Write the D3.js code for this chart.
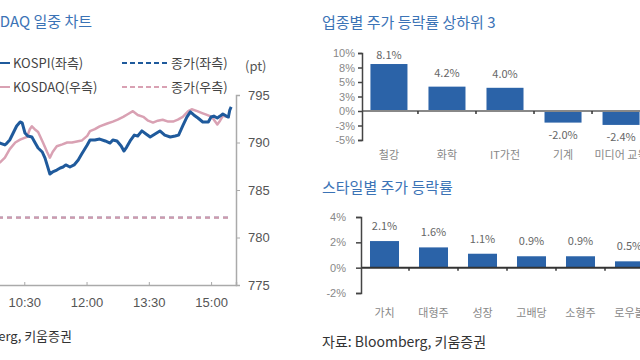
<!DOCTYPE html>
<html><head><meta charset="utf-8">
<script src="https://cdn.jsdelivr.net/npm/d3@7"></script>
<style>
html,body{margin:0;padding:0;background:#fff;}
svg{display:block;font-family:"Noto Sans CJK KR","Noto Sans",sans-serif;}
</style></head><body>
<svg id="c" width="640" height="360"></svg>
<script>
// ---------- data ----------
const kospiTimes = ["09:50","09:55","10:02","10:05","10:09","10:14","10:19","10:24","10:27","10:31","10:35","10:41","10:45","10:50","10:56","11:00","11:03","11:07","11:11","11:17","11:22","11:26","11:30","11:36","11:42","11:48","11:53","12:01","12:05","12:12","12:19","12:27","12:34","12:38","12:44","12:50","12:54","12:58","13:03","13:09","13:14","13:20","13:26","13:32","13:39","13:46","13:53","14:01","14:08","14:13","14:19","14:25","14:30","14:35","14:41","14:48","14:56","15:00","15:04","15:09","15:13","15:17","15:22","15:25","15:27","15:29"];
const kospiValues = [2474.7,2474.7,2473.7,2474.7,2476.3,2480.0,2483.7,2485.8,2485.3,2480.0,2478.4,2477.9,2475.3,2472.1,2470.0,2466.8,2463.2,2458.4,2459.5,2460.5,2461.6,2462.1,2463.2,2462.1,2463.2,2465.8,2468.9,2473.7,2476.3,2476.3,2476.8,2475.8,2474.7,2476.3,2475.8,2473.2,2470.5,2472.6,2475.8,2478.9,2478.4,2481.1,2479.5,2477.9,2479.5,2481.1,2478.9,2477.9,2478.4,2478.9,2483.7,2488.4,2491.1,2489.5,2487.9,2485.8,2485.8,2488.4,2488.9,2487.9,2488.9,2490.0,2488.9,2488.4,2492.1,2493.7];
const kosdaqTimes = ["09:50","09:55","10:02","10:09","10:17","10:24","10:34","10:38","10:41","10:45","10:50","10:57","11:03","11:07","11:11","11:17","11:25","11:32","11:39","11:46","11:53","12:01","12:05","12:12","12:19","12:30","12:38","12:45","12:53","13:00","13:07","13:14","13:22","13:29","13:36","13:43","13:50","13:58","14:05","14:12","14:19","14:27","14:32","14:40","14:47","14:54","15:01","15:09","15:13","15:17","15:23","15:27"];
const kosdaqValues = [787.9,787.9,788.4,789.3,790.0,790.3,790.6,791.4,791.7,791.4,791.1,790.0,789.0,788.4,789.0,789.6,789.8,790.0,790.0,790.1,790.2,790.7,791.2,791.4,791.7,792.0,792.2,792.4,792.7,793.0,793.3,792.9,792.7,792.3,792.1,792.3,792.4,792.2,792.2,792.4,792.7,793.3,793.5,793.3,793.1,792.9,792.7,791.9,792.3,792.8,792.7,792.8];
const kospiPrevClose = 2435.5;
const kosdaqPrevClose = 782.1;
const timeTicks = ["10:30","12:00","13:30","15:00"];
const rightTicks = [775,780,785,790,795];

const sectorCats = ["철강","화학","IT가전","기계","미디어 교육"];
const sectorValues = [8.1,4.2,4.0,-2.0,-2.4];
const sectorTicks = [-5,-2.5,0,2.5,5,7.5,10];

const styleCats = ["가치","대형주","성장","고배당","소형주","로우볼"];
const styleValues = [2.1,1.6,1.1,0.9,0.9,0.5];
const styleTicks = [-2,0,2,4];

// ---------- helpers ----------
const svg = d3.select("#c");
const parseT = d3.timeParse("%H:%M");
const BLUE = "#1f5a9c", PINK = "#d9a1b3", TITLE = "#3b73b6", BAR = "#2b63a8";

// ---------- left chart ----------
const x = d3.scaleTime().domain([parseT("09:00"), parseT("15:36")]).range([-38, 236]);
const yR = d3.scaleLinear().domain([775, 795]).range([285, 95]);
const yL = d3.scaleLinear().domain([2400, 2500]).range([285, 95]);

svg.append("text").attr("x", 92).attr("y", 27).attr("text-anchor", "end")
  .attr("font-size", 15).attr("fill", TITLE).text("KOSPI, KOSDAQ 일중 차트");

// legend
const lg = [
  {y: 63, c: BLUE, t1: "KOSPI(좌측)", t2: "종가(좌측)"},
  {y: 87, c: PINK, t1: "KOSDAQ(우측)", t2: "종가(우측)"}
];
lg.forEach(d => {
  svg.append("line").attr("x1", -2).attr("x2", 10).attr("y1", d.y).attr("y2", d.y)
    .attr("stroke", d.c).attr("stroke-width", 2);
  svg.append("text").attr("x", 13).attr("y", d.y + 4.5).attr("font-size", 13).attr("fill", "#444").text(d.t1);
  svg.append("line").attr("x1", 122).attr("x2", 167).attr("y1", d.y).attr("y2", d.y)
    .attr("stroke", d.c).attr("stroke-width", 2).attr("stroke-dasharray", "5,3");
  svg.append("text").attr("x", 171).attr("y", d.y + 4.5).attr("font-size", 13).attr("fill", "#444").text(d.t2);
});
svg.append("text").attr("x", 245).attr("y", 71).attr("font-size", 13).attr("fill", "#555").text("(pt)");

// axes
const xAx = svg.append("g").attr("transform", "translate(0,285)")
  .call(d3.axisBottom(x).tickValues(timeTicks.map(parseT)).tickFormat(d3.timeFormat("%H:%M")).tickSize(-3).tickPadding(10));
xAx.select(".domain").attr("stroke", "#aaa").attr("stroke-width", 1.5);
xAx.selectAll(".tick line").attr("stroke", "#aaa");
xAx.selectAll("text").attr("font-size", 13).attr("fill", "#555").attr("dy", "0.9em").attr("font-family", "inherit");

const yAx = svg.append("g").attr("transform", "translate(236,0)")
  .call(d3.axisRight(yR).tickValues(rightTicks).tickSize(4).tickSizeOuter(4).tickPadding(8));
yAx.select(".domain").attr("stroke", "#aaa").attr("stroke-width", 1.5);
yAx.selectAll(".tick line").attr("stroke", "#aaa");
yAx.selectAll("text").attr("font-size", 13).attr("fill", "#555").attr("font-family", "inherit");

// prev-close lines
svg.append("line").attr("x1", x(parseT("09:00"))).attr("x2", 231)
  .attr("y1", yL(kospiPrevClose)).attr("y2", yL(kospiPrevClose))
  .attr("stroke", BLUE).attr("stroke-width", 1.5).attr("stroke-dasharray", "5,4");
svg.append("line").attr("x1", x(parseT("09:00"))).attr("x2", 231)
  .attr("y1", yR(kosdaqPrevClose)).attr("y2", yR(kosdaqPrevClose))
  .attr("stroke", "#cf9aac").attr("stroke-width", 2.2).attr("stroke-dasharray", "5,4");

// lines
const kosdaqData = kosdaqTimes.map((t, i) => ({t: parseT(t), v: kosdaqValues[i]}));
const kospiData = kospiTimes.map((t, i) => ({t: parseT(t), v: kospiValues[i]}));
svg.append("path").datum(kosdaqData)
  .attr("d", d3.line().x(d => x(d.t)).y(d => yR(d.v)))
  .attr("fill", "none").attr("stroke", PINK).attr("stroke-width", 2.5).attr("stroke-linejoin", "round");
svg.append("path").datum(kospiData)
  .attr("d", d3.line().x(d => x(d.t)).y(d => yL(d.v)))
  .attr("fill", "none").attr("stroke", BLUE).attr("stroke-width", 3).attr("stroke-linejoin", "round");

svg.append("text").attr("x", 72).attr("y", 341).attr("text-anchor", "end")
  .attr("font-size", 13).attr("fill", "#333").text("자료: Bloomberg, 키움증권");

// ---------- bar chart helper ----------
function barChart(o) {
  const xs = d3.scaleBand().domain(o.cats).range(o.xr).paddingInner(o.pi).paddingOuter(o.po);
  const ys = d3.scaleLinear().domain(o.dom).range(o.yr);
  svg.append("text").attr("x", 322).attr("y", o.titleY).attr("font-size", 15).attr("fill", TITLE).text(o.title);
  svg.selectAll(null).data(o.vals).enter().append("rect")
    .attr("x", (d, i) => xs(o.cats[i]))
    .attr("width", xs.bandwidth())
    .attr("y", d => ys(Math.max(0, d)))
    .attr("height", d => Math.abs(ys(d) - ys(0)))
    .attr("fill", BAR);
  // zero line
  svg.append("line").attr("x1", o.axisX).attr("x2", 640).attr("y1", ys(0)).attr("y2", ys(0))
    .attr("stroke", o.zeroColor).attr("stroke-width", 2);
  // separators
  o.cats.slice(1).forEach(c => {
    const sx = xs(c) - xs.step() * o.pi / 2;
    svg.append("line").attr("x1", sx).attr("x2", sx).attr("y1", ys(0)).attr("y2", ys(0) + 3)
      .attr("stroke", "#333").attr("stroke-width", 1.5);
  });
  const ax = svg.append("g").attr("transform", `translate(${o.axisX},0)`)
    .call(d3.axisLeft(ys).tickValues(o.ticks).tickSize(o.tick).tickSizeOuter(o.tick).tickPadding(o.pad)
      .tickFormat(d => d.toFixed(0) + "%"));
  ax.select(".domain").attr("stroke", "#444").attr("stroke-width", 1.5);
  ax.selectAll(".tick line").attr("stroke", "#444").attr("stroke-width", 1.5);
  ax.selectAll("text").attr("font-size", 11).attr("fill", "#888").attr("font-family", "inherit");
  // value labels
  svg.selectAll(null).data(o.vals).enter().append("text")
    .attr("x", (d, i) => xs(o.cats[i]) + xs.bandwidth() / 2)
    .attr("y", d => d >= 0 ? Math.max(o.minLabelY, ys(d) - o.lblOff) : ys(d) + 16)
    .attr("text-anchor", "middle").attr("font-size", 11).attr("fill", "#666")
    .text(d => d.toFixed(1) + "%");
  // category labels
  svg.selectAll(null).data(o.cats).enter().append("text")
    .attr("x", d => xs(d) + xs.bandwidth() / 2).attr("y", o.catY)
    .attr("text-anchor", "middle").attr("font-size", 11).attr("fill", "#888").text(d => d);
}

barChart({
  title: "업종별 주가 등락률 상하위 3", titleY: 28,
  cats: sectorCats, vals: sectorValues, ticks: sectorTicks,
  dom: [-5, 10], yr: [140, 53], xr: [360, 650], pi: 0.362, po: 0.18,
  axisX: 362, tick: 4, pad: 3, zeroColor: "#888", lblOff: 10, minLabelY: 59, catY: 159
});
barChart({
  title: "스타일별 주가 등락률", titleY: 193,
  cats: styleCats, vals: styleValues, ticks: styleTicks,
  dom: [-2, 4], yr: [293, 217], xr: [360, 654], pi: 0.408, po: 0.204,
  axisX: 361, tick: 5, pad: 10, zeroColor: "#333", lblOff: 11, minLabelY: 0, catY: 317
});
svg.append("text").attr("x", 322).attr("y", 347).attr("font-size", 14).attr("fill", "#333")
  .text("자료: Bloomberg, 키움증권");
</script>
</body></html>
